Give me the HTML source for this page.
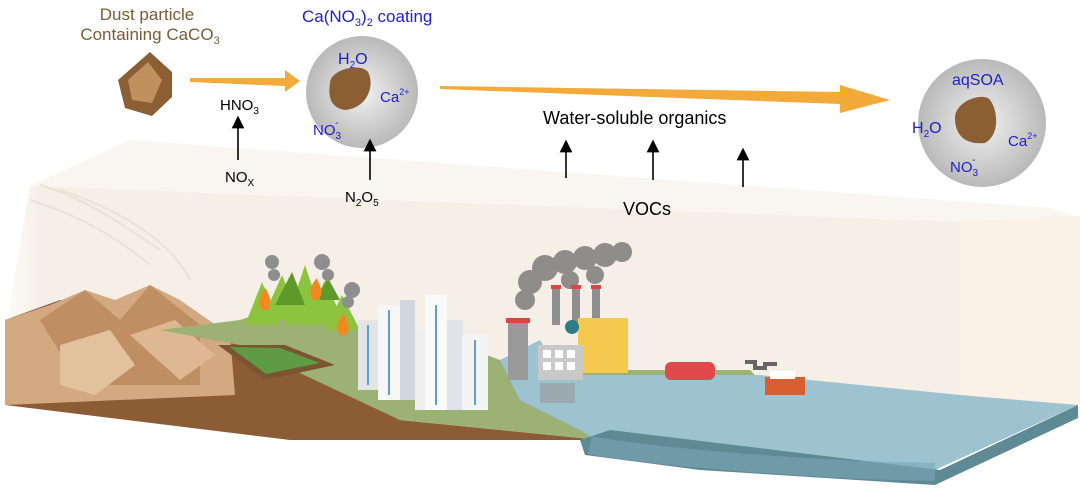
<!DOCTYPE html>
<html><head><meta charset="utf-8"><style>
html,body{margin:0;padding:0;background:#fff;}
svg{display:block;font-family:"Liberation Sans",Arial,sans-serif;}
</style></head><body>
<svg width="1080" height="489" viewBox="0 0 1080 489" xmlns="http://www.w3.org/2000/svg">
<defs>
<radialGradient id="pg" cx="50%" cy="50%" r="50%"><stop offset="0" stop-color="#f2f2f2"/><stop offset="1" stop-color="#b9b9b9"/></radialGradient>
<linearGradient id="lf" x1="0" y1="0" x2="1" y2="0"><stop offset="0" stop-color="#fff" stop-opacity="0.9"/><stop offset="0.2" stop-color="#fff" stop-opacity="0"/></linearGradient>
<marker id="ah" markerWidth="8" markerHeight="8" refX="4" refY="4" orient="auto"><path d="M0,0 L8,4 L0,8 z" fill="#000"/></marker>
</defs>
<!-- translucent box -->
<polygon points="130,140 1050,208 1080,218 960,222 30,186" fill="#f9f5f0"/>
<polygon points="30,186 960,222 960,400 5,330" fill="#f6efe8"/>
<polygon points="960,222 1080,216 1080,405 960,398" fill="#fcf1e6"/>
<polygon points="0,140 200,140 200,330 0,330" fill="url(#lf)"/>
<!-- smoke wisps left -->
<path d="M40,185 C90,200 130,230 160,250 M30,200 C80,215 120,240 150,265 M60,190 C120,210 170,240 190,280" stroke="#e9dfd1" stroke-width="2" fill="none" opacity="0.8"/>
<!-- ground brown slab -->
<polygon points="5,320 60,300 120,300 180,320 240,340 400,420 600,440 290,440 5,405" fill="#8c5d35"/>
<!-- mountains -->
<polygon points="5,320 50,305 85,290 115,300 150,285 180,300 230,335 235,395 5,405" fill="#d3a982"/>
<polygon points="40,320 85,290 120,320 150,285 200,325 200,385 80,385" fill="#bf8e63"/>
<polygon points="60,345 110,330 135,365 95,395 60,385" fill="#e2c19c"/>
<polygon points="130,335 175,320 215,355 180,380" fill="#ddb892"/>
<!-- green land -->
<polygon points="160,330 240,320 300,300 360,330 420,330 500,360 580,365 620,370 750,370 760,380 700,395 620,400 580,420 600,440 400,420 240,345" fill="#9cb274"/>
<!-- water -->
<polygon points="500,360 540,340 560,375 640,375 760,375 960,395 1078,405 935,470 620,455 580,430 600,440 560,420 520,400" fill="#9cc3cf"/>
<polygon points="580,440 610,430 940,470 1078,405 1078,418 935,485 700,470 585,455" fill="#5e8a95"/>
<path d="M590,445 C640,455 800,470 935,472" stroke="#7aa7b4" stroke-width="18" fill="none" opacity="0.6"/>
<!-- forest -->
<g fill="#8cc43f"><polygon points="245,325 262,282 280,325"/><polygon points="262,320 282,275 300,320"/><polygon points="285,325 305,265 325,325"/><polygon points="305,325 325,280 345,325"/><polygon points="325,330 342,295 360,330"/></g>
<g fill="#5d9a2a"><polygon points="275,305 292,272 305,305"/><polygon points="315,300 328,278 340,300"/></g>
<g fill="#f08a1e"><path d="M262,310 c-6,-8 0,-18 4,-22 c2,8 8,12 2,22z"/><path d="M313,300 c-6,-8 0,-18 4,-22 c2,8 8,12 2,22z"/><path d="M340,335 c-6,-8 0,-18 4,-22 c2,8 8,12 2,22z"/></g>
<g fill="#8e8e8e"><circle cx="272" cy="262" r="7"/><circle cx="274" cy="275" r="6"/><circle cx="322" cy="262" r="8"/><circle cx="328" cy="275" r="6"/><circle cx="352" cy="290" r="8"/><circle cx="348" cy="302" r="6"/></g>
<!-- crop field -->
<polygon points="218,345 285,345 335,365 265,380" fill="#7a5530"/>
<polygon points="230,347 280,348 320,363 266,374" fill="#5f9a45"/>
<!-- buildings -->
<rect x="358" y="320" width="20" height="70" fill="#e4e4e4"/>
<rect x="378" y="305" width="22" height="95" fill="#f6f6f6"/>
<rect x="400" y="300" width="15" height="100" fill="#cfd8df"/>
<rect x="415" y="330" width="20" height="80" fill="#eee"/>
<rect x="425" y="295" width="22" height="115" fill="#fafafa"/>
<rect x="447" y="320" width="16" height="90" fill="#e0e4e8"/>
<rect x="462" y="335" width="26" height="75" fill="#f4f4f4"/>
<g stroke="#5b9fd3" stroke-width="2"><line x1="389" y1="310" x2="389" y2="395"/><line x1="436" y1="305" x2="436" y2="405"/><line x1="475" y1="340" x2="475" y2="405"/><line x1="368" y1="325" x2="368" y2="385"/></g>
<!-- factory smoke -->
<g fill="#7d7d7d" opacity="0.85"><circle cx="525" cy="300" r="10"/><circle cx="530" cy="282" r="12"/><circle cx="545" cy="268" r="13"/><circle cx="565" cy="262" r="12"/><circle cx="585" cy="258" r="12"/><circle cx="605" cy="255" r="12"/><circle cx="622" cy="252" r="10"/><circle cx="570" cy="280" r="9"/><circle cx="595" cy="275" r="9"/></g>
<rect x="508" y="320" width="20" height="60" fill="#9a9a9a"/><rect x="506" y="318" width="24" height="5" fill="#e0443e"/>
<rect x="552" y="285" width="8" height="40" fill="#8f8f8f"/><rect x="572" y="285" width="8" height="40" fill="#8f8f8f"/><rect x="592" y="285" width="8" height="40" fill="#8f8f8f"/>
<rect x="551" y="285" width="10" height="4" fill="#e0443e"/><rect x="571" y="285" width="10" height="4" fill="#e0443e"/><rect x="591" y="285" width="10" height="4" fill="#e0443e"/>
<rect x="578" y="318" width="50" height="55" fill="#f4c94d"/>
<rect x="538" y="345" width="45" height="35" fill="#c9c9c9"/>
<g fill="#fff"><rect x="543" y="350" width="8" height="8"/><rect x="555" y="350" width="8" height="8"/><rect x="567" y="350" width="8" height="8"/><rect x="543" y="362" width="8" height="8"/><rect x="555" y="362" width="8" height="8"/><rect x="567" y="362" width="8" height="8"/></g>
<circle cx="572" cy="327" r="7" fill="#2c7d86"/>
<rect x="540" y="383" width="35" height="20" fill="#9ca8b0"/>
<rect x="665" y="362" width="50" height="18" rx="6" fill="#e04a4a"/>
<rect x="765" y="377" width="40" height="18" fill="#d95e30"/><rect x="770" y="371" width="25" height="8" fill="#fff"/>
<path d="M745,362 h10 v6 h10 v-4 h12" stroke="#666" stroke-width="4" fill="none"/>
<!-- top labels -->
<text x="147" y="20" font-size="17" fill="#7a5a38" text-anchor="middle">Dust particle</text>
<text x="150" y="40" font-size="17" fill="#7a5a38" text-anchor="middle">Containing CaCO<tspan font-size="11" dy="4">3</tspan></text>
<polygon points="150,52 172,72 172,97 152,116 125,108 118,80" fill="#8b5e34"/>
<polygon points="148,62 162,80 152,103 132,100 128,80" fill="#c0905e"/>
<polygon points="190,78 285,78 285,70 300,81 285,92 285,86 190,82" fill="#f4a93b"/>
<text x="302" y="22" font-size="17" fill="#1e22c8">Ca(NO<tspan font-size="11" dy="4">3</tspan><tspan dy="-4">)</tspan><tspan font-size="11" dy="4">2</tspan><tspan dy="-4"> coating</tspan></text>
<circle cx="362" cy="92" r="56" fill="url(#pg)"/>
<path d="M330,83 C330,70 360,62 368,72 C375,85 368,108 345,110 C330,108 328,95 330,83z" fill="#8b5e34"/>
<text x="338" y="64" font-size="16" fill="#1e22c8">H<tspan font-size="10" dy="4">2</tspan><tspan dy="-4">O</tspan></text>
<text x="380" y="102" font-size="15" fill="#1e22c8">Ca<tspan font-size="9" dy="-7">2+</tspan></text>
<text x="313" y="135" font-size="15" fill="#1e22c8">NO<tspan font-size="10" dy="4">3</tspan><tspan font-size="10" dx="-6" dy="-13">-</tspan></text>
<text x="220" y="110" font-size="15">HNO<tspan font-size="10" dy="4">3</tspan></text>
<line x1="238" y1="160" x2="238" y2="122" stroke="#000" stroke-width="1.6" marker-end="url(#ah)"/>
<text x="225" y="182" font-size="15">NO<tspan font-size="10" dy="4">X</tspan></text>
<line x1="370" y1="180" x2="370" y2="145" stroke="#000" stroke-width="1.6" marker-end="url(#ah)"/>
<text x="345" y="202" font-size="15">N<tspan font-size="10" dy="4">2</tspan><tspan dy="-4">O</tspan><tspan font-size="10" dy="4">5</tspan></text>
<polygon points="440,86 840,92 840,85 890,100 840,113 840,104 440,89" fill="#f4a93b"/>
<text x="543" y="124" font-size="18">Water-soluble organics</text>
<g stroke="#000" stroke-width="1.6"><line x1="566" y1="178" x2="566" y2="146" marker-end="url(#ah)"/><line x1="653" y1="180" x2="653" y2="146" marker-end="url(#ah)"/><line x1="743" y1="187" x2="743" y2="154" marker-end="url(#ah)"/></g>
<text x="623" y="215" font-size="18">VOCs</text>
<circle cx="982" cy="123" r="64" fill="url(#pg)"/>
<path d="M955,118 C955,100 985,92 990,100 C998,110 1000,135 985,143 C965,145 955,135 955,118z" fill="#8b5e34"/>
<text x="952" y="85" font-size="16" fill="#1e22c8">aqSOA</text>
<text x="912" y="133" font-size="16" fill="#1e22c8">H<tspan font-size="10" dy="4">2</tspan><tspan dy="-4">O</tspan></text>
<text x="1008" y="146" font-size="15" fill="#1e22c8">Ca<tspan font-size="9" dy="-7">2+</tspan></text>
<text x="950" y="172" font-size="15" fill="#1e22c8">NO<tspan font-size="10" dy="4">3</tspan><tspan font-size="10" dx="-6" dy="-13">-</tspan></text>
</svg>
</body></html>
